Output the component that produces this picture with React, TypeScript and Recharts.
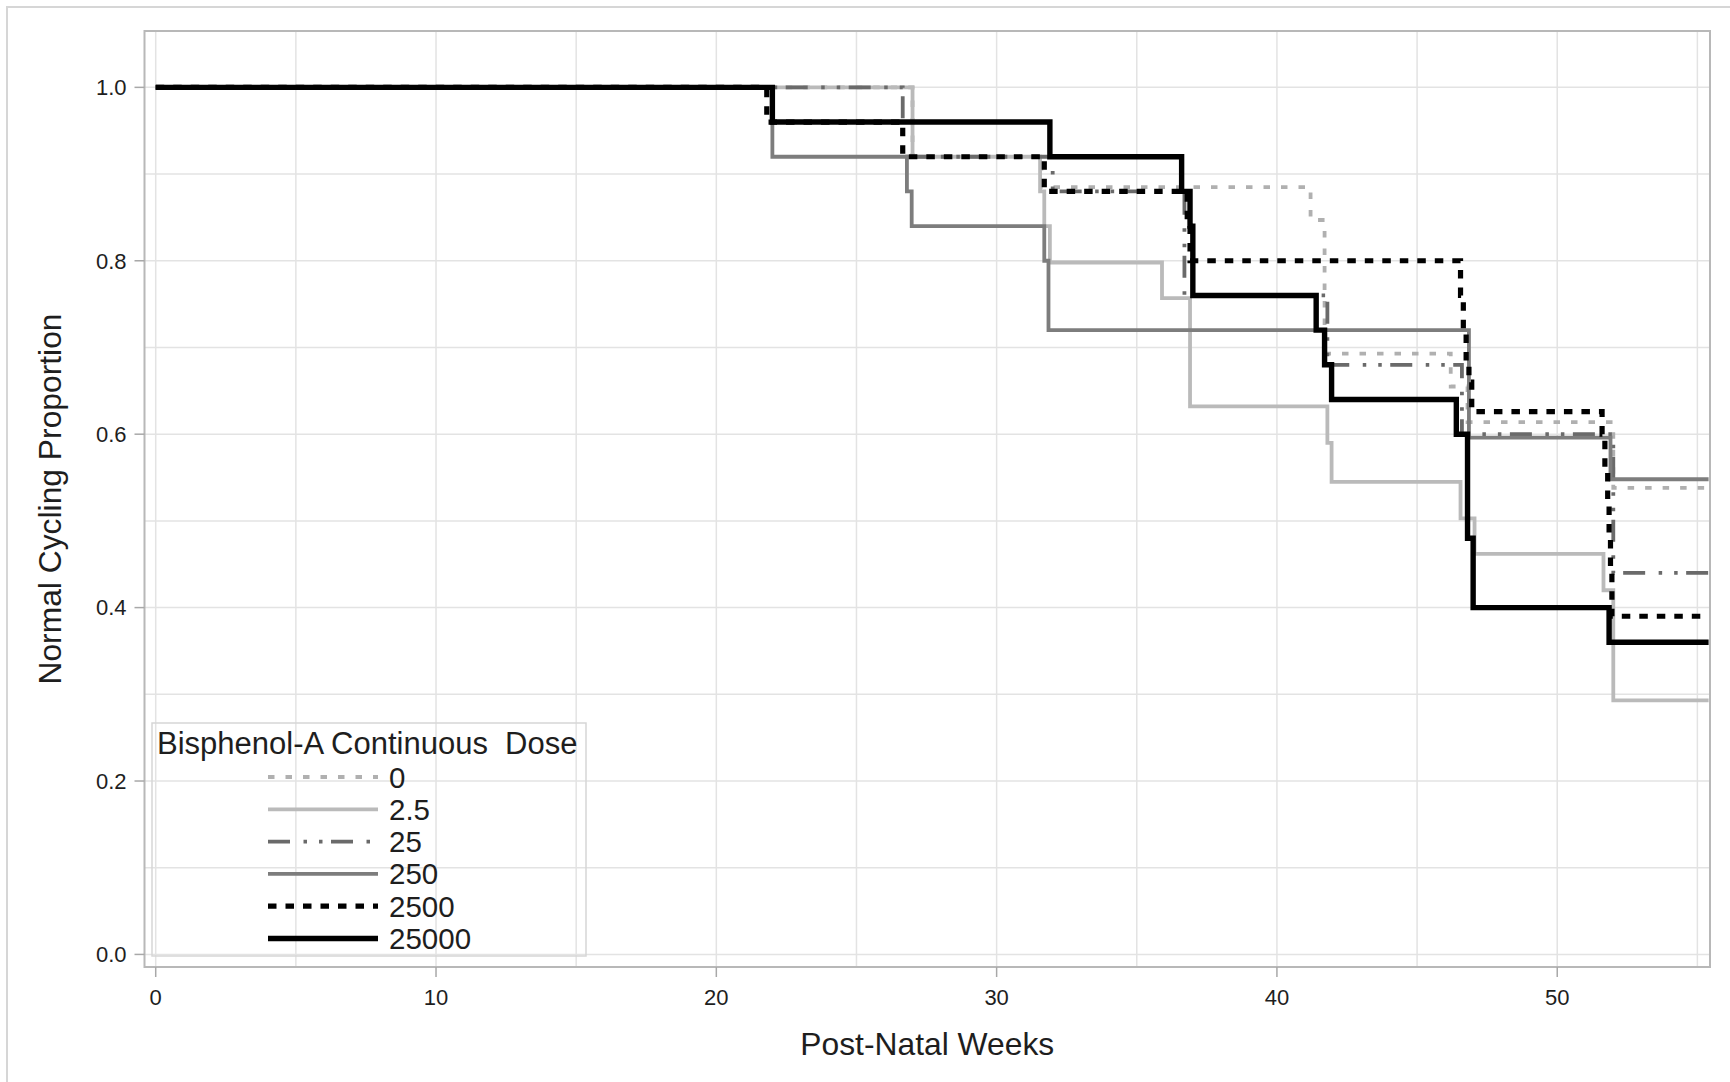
import React from 'react';
import { LineChart, Line, XAxis, YAxis, CartesianGrid, ReferenceArea, Label } from 'recharts';

// ---- Data (Kaplan-Meier style step estimates) ----
const doseLabels = ['0', '2.5', '25', '250', '2500', '25000'];

const weeksDose0 = [0, 27.0, 31.6, 41.2, 41.7, 46.2, 46.8, 52.0, 55.4];
const propDose0 = [1.0, 0.92, 0.885, 0.847, 0.693, 0.655, 0.614, 0.538, 0.538];

const weeksDose2p5 = [0, 27.0, 31.55, 31.7, 31.9, 35.9, 36.9, 41.8, 41.95, 46.55, 47.05, 51.65, 52.0, 55.4];
const propDose2p5 = [1.0, 0.92, 0.88, 0.84, 0.798, 0.757, 0.632, 0.59, 0.545, 0.503, 0.462, 0.42, 0.293, 0.293];

const weeksDose25 = [0, 26.65, 32.0, 36.7, 41.8, 46.6, 52.0, 55.4];
const propDose25 = [1.0, 0.92, 0.88, 0.76, 0.68, 0.6, 0.44, 0.44];

const weeksDose250 = [0, 22.0, 26.8, 26.97, 31.7, 31.85, 46.85, 51.9, 55.4];
const propDose250 = [1.0, 0.92, 0.88, 0.84, 0.8, 0.72, 0.596, 0.548, 0.548];

const weeksDose2500 = [0, 21.8, 26.65, 31.7, 36.8, 36.9, 46.55, 46.65, 46.75, 46.85, 46.95, 51.6, 51.7, 51.8, 51.85, 51.9, 51.95, 55.4];
const propDose2500 = [1.0, 0.96, 0.92, 0.88, 0.84, 0.8, 0.76, 0.72, 0.68, 0.66, 0.626, 0.6, 0.56, 0.52, 0.48, 0.44, 0.39, 0.39];

const weeksDose25000 = [0, 22.0, 31.9, 36.6, 36.9, 37.0, 41.4, 41.7, 41.95, 46.4, 46.8, 47.0, 51.85, 55.4];
const propDose25000 = [1.0, 0.96, 0.92, 0.88, 0.84, 0.76, 0.72, 0.68, 0.64, 0.6, 0.48, 0.4, 0.36, 0.36];

const xTicks = [0, 10, 20, 30, 40, 50];
const yTicks = [0, 0.2, 0.4, 0.6, 0.8, 1.0];
const xGrid = [0, 5, 10, 15, 20, 25, 30, 35, 40, 45, 50, 55];
const yGrid = [0, 0.1, 0.2, 0.3, 0.4, 0.5, 0.6, 0.7, 0.8, 0.9, 1.0];

const X_DOMAIN: [number, number] = [-0.4, 55.45];
const Y_DOMAIN: [number, number] = [-0.0145, 1.065];

const toPoints = (w: number[], p: number[]) => w.map((x, i) => ({ x, y: p[i] }));

const seriesData = [
  toPoints(weeksDose0, propDose0),
  toPoints(weeksDose2p5, propDose2p5),
  toPoints(weeksDose25, propDose25),
  toPoints(weeksDose250, propDose250),
  toPoints(weeksDose2500, propDose2500),
  toPoints(weeksDose25000, propDose25000),
];

// styles
const seriesStyle = [
  { color: '#b0b0b0', width: 3.8, dash: '6.5 11' },
  { color: '#bababa', width: 3.8, dash: undefined },
  { color: '#6a6a6a', width: 3.8, dash: '22 13.5 3.5 12 3.5 8.5' },
  { color: '#7d7d7d', width: 3.8, dash: undefined },
  { color: '#000000', width: 5.2, dash: '8.5 9' },
  { color: '#000000', width: 5.4, dash: undefined },
];

const FONT = '"Liberation Sans", Arial, Helvetica, sans-serif';
const TEXT = '#1e1e1e';

function LegendBox() {
  const rows = doseLabels.map((lab, i) => ({ lab, st: seriesStyle[i], cy: 777 + i * 32.3 }));
  return (
    <svg width={1730} height={1082} style={{ position: 'absolute', left: 0, top: 0, pointerEvents: 'none' }}>
      <rect x={152} y={723} width={434} height={233} fill="none" stroke="#d6d6d6" strokeWidth={1.5} />
      <text x={157} y={743} dominantBaseline="central" fontFamily={FONT} fontSize={31} fill={TEXT} style={{ whiteSpace: 'pre' }}>
        {'Bisphenol-A Continuous  Dose'}
      </text>
      {rows.map((r) => (
        <g key={r.lab}>
          <line x1={268} x2={378} y1={r.cy} y2={r.cy} stroke={r.st.color} strokeWidth={r.st.width} strokeDasharray={r.st.dash} />
          <text x={389} y={r.cy} dominantBaseline="central" fontFamily={FONT} fontSize={29.5} fill={TEXT}>
            {r.lab}
          </text>
        </g>
      ))}
    </svg>
  );
}

export default function App() {
  return (
    <div style={{ position: 'absolute', left: 0, top: 0, width: 1730, height: 1082, background: '#fff', fontFamily: FONT }}>
      <div style={{ position: 'absolute', left: 6, top: 6, width: 1724, height: 1076, borderTop: '2px solid #d6d6d6', borderLeft: '2px solid #d6d6d6' }} />
      <div style={{ position: 'absolute', left: 0, top: 0 }}>
        <LineChart width={1730} height={1082} margin={{ top: 31, right: 20, bottom: 55, left: 84.5 }}>
          <CartesianGrid
            stroke="#e3e3e3"
            strokeWidth={1.5}
            horizontalValues={yGrid}
            verticalValues={xGrid}
          />
          <ReferenceArea x1={X_DOMAIN[0]} x2={X_DOMAIN[1]} y1={Y_DOMAIN[0]} y2={Y_DOMAIN[1]} fill="none" stroke="#b8b8b8" strokeWidth={2} ifOverflow="visible" />
          <XAxis
            type="number"
            dataKey="x"
            domain={X_DOMAIN}
            allowDataOverflow
            ticks={xTicks}
            height={60}
            axisLine={false}
            tickLine={{ stroke: '#a8a8a8', strokeWidth: 1.5 }}
            tickSize={10}
            tickMargin={12}
            tick={{ fill: TEXT, fontSize: 22, fontFamily: FONT }}
          >
            <Label value="Post-Natal Weeks" position="center" dy={47} style={{ fontSize: 31.8, fill: TEXT, fontFamily: FONT }} />
          </XAxis>
          <YAxis
            type="number"
            dataKey="y"
            domain={Y_DOMAIN}
            allowDataOverflow
            ticks={yTicks}
            width={60}
            axisLine={false}
            tickLine={{ stroke: '#a8a8a8', strokeWidth: 1.5 }}
            tickSize={10}
            tickMargin={8}
            tickFormatter={(v: number) => v.toFixed(1)}
            tick={{ fill: TEXT, fontSize: 22, fontFamily: FONT }}
          >
            <Label value="Normal Cycling Proportion" angle={-90} position="center" dx={-64.5} style={{ fontSize: 31.8, fill: TEXT, fontFamily: FONT, textAnchor: 'middle' }} />
          </YAxis>
          {seriesData.map((d, i) => (
            <Line
              key={doseLabels[i]}
              data={d}
              dataKey="y"
              type="stepAfter"
              stroke={seriesStyle[i].color}
              strokeWidth={seriesStyle[i].width}
              strokeDasharray={seriesStyle[i].dash}
              strokeLinecap="butt"
              dot={false}
              activeDot={false}
              isAnimationActive={false}
              name={doseLabels[i]}
            />
          ))}
        </LineChart>
      </div>
      <LegendBox />
    </div>
  );
}
